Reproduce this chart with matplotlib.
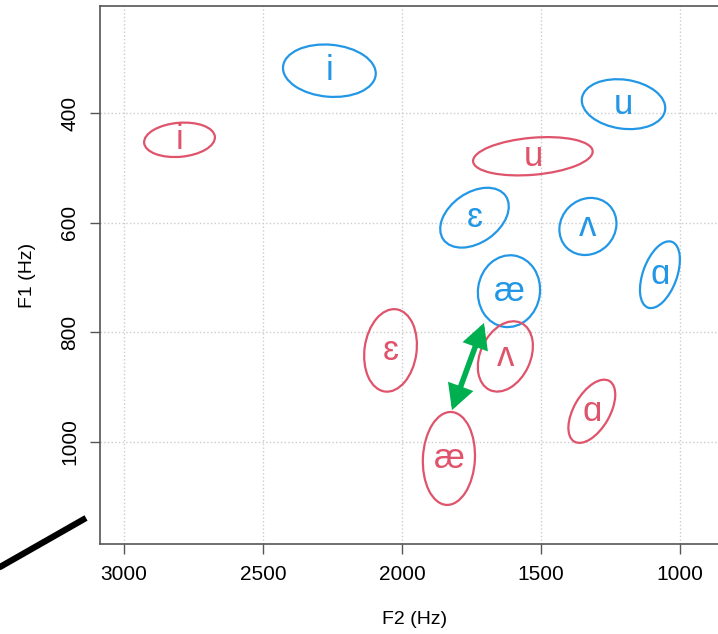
import matplotlib
matplotlib.use('Agg')
import matplotlib.pyplot as plt
from matplotlib.patches import Ellipse, FancyArrowPatch
from matplotlib.transforms import ScaledTranslation
from matplotlib.lines import Line2D

plt.rcParams['font.family'] = ['Liberation Sans', 'DejaVu Sans']

# 母音ラベル
vowels = ['i', 'u', 'ɛ', 'ʌ', 'æ', 'ɑ']

# 青グループの中心 (F2, F1)
blue_f2 = [2261, 1203, 1739, 1331, 1615, 1072]
blue_f1 = [323, 384, 591, 607, 725, 695]

# 赤グループの中心 (F2, F1)
red_f2 = [2800, 1529, 2041, 1628, 1831, 1317]
red_f1 = [449, 479, 833, 844, 1030, 944]

# 楕円の形 (幅px, 高さpx, 角度)
blue_shape = [(93, 52, -5), (84, 49, -8), (76, 50, 35), (60, 54, 45), (62, 72, -8), (70, 34, 70)]
red_shape = [(71, 34, 5), (120, 37, 5), (52, 83, -8), (50, 74, -25), (52, 93, -3), (70, 36, 60)]

# 緑の矢印 (æ 赤 -> æ 青)
arrow_f2 = [1820, 1705]
arrow_f1 = [942, 783]

blue = '#2297E6'
red = '#DF536B'
green = '#00B050'

fig = plt.figure(figsize=(7.18, 6.34), dpi=100)
ax = fig.add_axes([100 / 718, 90 / 634, 630 / 718, 538 / 634])
ax.set_xlim(3086, 820)
ax.set_ylim(1186, 205)

ax.set_xticks([3000, 2500, 2000, 1500, 1000])
ax.set_yticks([400, 600, 800, 1000])
ax.grid(True, ls=':', color='#cccccc', lw=1)
ax.set_axisbelow(True)

for s in ax.spines.values():
    s.set_color('#555555')
    s.set_linewidth(1.2)
ax.tick_params(direction='out', length=7, width=1, color='#555555', labelsize=15, pad=8)
ax.tick_params(axis='y', labelrotation=90)
plt.setp(ax.get_yticklabels(), va='center')


def draw_group(f2, f1, shapes, color):
    for x, y, (w, h, a), v in zip(f2, f1, shapes, vowels):
        tr = fig.dpi_scale_trans + ScaledTranslation(x, y, ax.transData)
        e = Ellipse((0, 0), w / 100, h / 100, angle=a, transform=tr,
                    fill=False, ec=color, lw=1.6)
        ax.add_patch(e)
        ax.text(x, y, v, color=color, fontsize=25, ha='center', va='center')


draw_group(blue_f2, blue_f1, blue_shape, blue)
draw_group(red_f2, red_f1, red_shape, red)

arr = FancyArrowPatch((arrow_f2[0], arrow_f1[0]), (arrow_f2[1], arrow_f1[1]),
                      arrowstyle='<|-|>,head_length=0.6,head_width=0.32',
                      mutation_scale=20, color=green, lw=4, shrinkA=0, shrinkB=0,
                      joinstyle='miter')
ax.add_patch(arr)

ax.set_xlabel('F2 (Hz)', fontsize=14, va='center')
ax.xaxis.set_label_coords(0.5, (544 - 620) / 538)
ax.set_ylabel('F1 (Hz)', fontsize=14, va='center')
ax.yaxis.set_label_coords((27 - 100) / 630, 0.5)

# 左下の黒い線
fig.add_artist(Line2D([-0.014, 0.1198], [0.0967, 0.183], transform=fig.transFigure,
                      color='black', lw=4.5, solid_capstyle='butt'))

fig.savefig('out.png', dpi=100)
